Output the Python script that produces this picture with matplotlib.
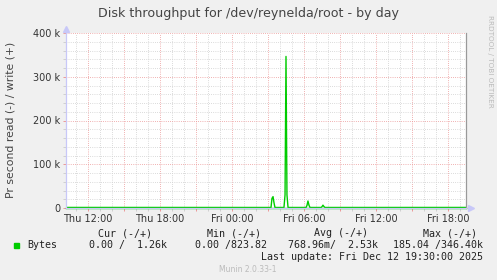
import matplotlib
matplotlib.use("Agg")
import matplotlib.pyplot as plt
from matplotlib.ticker import MultipleLocator, FixedLocator, FuncFormatter

# ---- data (hours since Thu 00:00; bytes per second) ----
write_t = [10.17, 27.25, 27.33, 27.42, 27.50, 27.58,
           28.33, 28.42, 28.50, 28.58, 28.67,
           30.17, 30.25, 30.33, 30.42, 30.50,
           31.42, 31.50, 31.58, 31.67, 31.75, 43.50]
write_v = [1260, 1200, 22000, 26000, 12000, 1200,
           1200, 30000, 346400, 30000, 1200,
           1200, 6000, 16000, 6000, 1200,
           1200, 3000, 6500, 3000, 1200, 1260]
read_t = [10.17, 43.50]
read_v = [0, 0]

x_start, x_end = 10.1667, 43.5
y_max = 400000
tick_hours = [12, 18, 24, 30, 36, 42]
tick_labels = ["Thu 12:00", "Thu 18:00", "Fri 00:00", "Fri 06:00", "Fri 12:00", "Fri 18:00"]

title = "Disk throughput for /dev/reynelda/root - by day"
ylabel = "Pr second read (-) / write (+)"
legend_headers = ["Cur (-/+)", "Min (-/+)", "Avg (-/+)", "Max (-/+)"]
legend_values = ["0.00 /  1.26k", "0.00 /823.82", "768.96m/  2.53k", "185.04 /346.40k"]
series_name = "Bytes"
last_update = "Last update: Fri Dec 12 19:30:00 2025"
footer = "Munin 2.0.33-1"
side_text = "RRDTOOL / TOBI OETIKER"

GREEN = "#00CC00"
W, H = 497, 280
fig = plt.figure(figsize=(W / 100, H / 100), dpi=100, facecolor="#F0F0F0")
L, R, T, B = 66, 466, 33, 208
ax = fig.add_axes([L / W, 1 - B / H, (R - L) / W, (B - T) / H])
ax.set_facecolor("white")
ax.set_xlim(x_start, x_end)
ax.set_ylim(0, y_max)

# grid
ax.xaxis.set_minor_locator(MultipleLocator(1))
ax.yaxis.set_major_locator(MultipleLocator(100000))
ax.yaxis.set_minor_locator(MultipleLocator(20000))
dots = (0, (0.72, 1.44))
ax.grid(which="minor", color="#D0D0D0", linestyle=dots, linewidth=0.72)
ax.grid(which="major", color="#EC9A9A", linestyle=dots, linewidth=0.72)
ax.set_axisbelow(True)

major_hours = list(range(12, 44, 3))
ax.xaxis.set_major_locator(FixedLocator(major_hours))
ax.set_xticklabels(["" if h % 6 else tick_labels[tick_hours.index(h)] for h in major_hours])
ax.yaxis.set_major_formatter(FuncFormatter(lambda v, p: "0" if v == 0 else f"{int(v/1000)} k"))
ax.tick_params(axis="both", which="both", length=2, width=0.72, colors="#555555",
               labelsize=7, pad=2)
ax.tick_params(axis="x", which="major", color="#EC9A9A")
ax.tick_params(axis="x", which="minor", color="#D0D0D0")
ax.tick_params(axis="y", which="major", color="#EC9A9A")
ax.tick_params(axis="y", which="minor", color="#D0D0D0")
for lab in ax.get_xticklabels() + ax.get_yticklabels():
    lab.set_color("#333333")

ax.spines["top"].set_visible(False)
ax.spines["left"].set_color("#C8C8F8")
ax.spines["bottom"].set_color("#C8C8F8")
ax.spines["right"].set_color("#999999")
for s in ax.spines.values():
    s.set_linewidth(0.9)

# axis arrows
ax.plot([0], [1.0 + 4 / 175], marker="^", color="#C8C8F8", markersize=4,
        transform=ax.transAxes, clip_on=False)
ax.plot([1.0 + 5 / 400], [0], marker=">", color="#C8C8F8", markersize=4,
        transform=ax.transAxes, clip_on=False)

# data
ax.plot(read_t, read_v, color=GREEN, linewidth=1.0, clip_on=False)
ax.plot(write_t, write_v, color=GREEN, linewidth=1.0)

# texts
fig.text(248 / W, 1 - 13 / H, title, ha="center", va="center", fontsize=9.1, color="#444444")
fig.text(11 / W, 1 - 120 / H, ylabel, ha="center", va="center", rotation=90,
         fontsize=7.8, color="#444444")
fig.text(490 / W, 1 - 61 / H, side_text, ha="center", va="center", rotation=-90,
         fontsize=5.2, color="#BBBBBB")

mono = dict(family="DejaVu Sans Mono", fontsize=7.2, color="#222222", va="center")
hdr_right = [152, 261, 368, 477]
for txt, xr in zip(legend_headers, hdr_right):
    fig.text(xr / W, 1 - 233 / H, txt, ha="right", **mono)
val_right = [167, 267, 378, 483]
for txt, xr in zip(legend_values, val_right):
    fig.text(xr / W, 1 - 245 / H, txt, ha="right", **mono)
fig.patches.append(plt.Rectangle((14 / W, 1 - 248 / H), 5 / W, 5 / H,
                                 transform=fig.transFigure, color=GREEN, figure=fig))
fig.text(27 / W, 1 - 245 / H, series_name, ha="left", **mono)
fig.text(483 / W, 1 - 257 / H, last_update, ha="right", **mono)
fig.text(248 / W, 1 - 269 / H, footer, ha="center", va="center", fontsize=5.5, color="#BBBBBB")

fig.savefig("out.png", dpi=100, facecolor=fig.get_facecolor())
